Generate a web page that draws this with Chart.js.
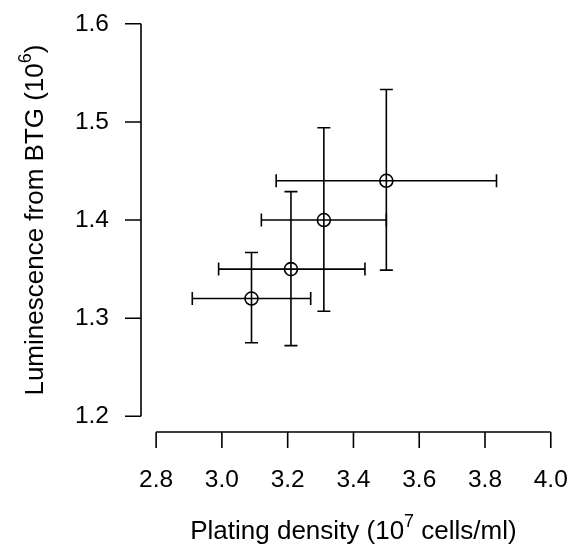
<!DOCTYPE html>
<html>
<head>
<meta charset="utf-8">
<script src="https://cdn.jsdelivr.net/npm/chart.js@4"></script>
<style>
  html, body { margin: 0; padding: 0; background: #fff; }
  #box { width: 574px; height: 552px; }
</style>
</head>
<body>
<div id="box"><canvas id="myChart" width="574" height="552"></canvas></div>
<script>
// dati
var density = [3.09, 3.21, 3.31, 3.50];
var lumin = [1.32, 1.35, 1.40, 1.44];
var densityLow = [2.91, 2.99, 3.12, 3.165];
var densityHigh = [3.27, 3.435, 3.50, 3.835];
var luminLow = [1.275, 1.272, 1.307, 1.349];
var luminHigh = [1.367, 1.429, 1.494, 1.533];

var xTicks = [2.8, 3.0, 3.2, 3.4, 3.6, 3.8, 4.0];
var xTickLabels = ['2.8', '3.0', '3.2', '3.4', '3.6', '3.8', '4.0'];
var yTicks = [1.2, 1.3, 1.4, 1.5, 1.6];
var yTickLabels = ['1.2', '1.3', '1.4', '1.5', '1.6'];

var FONT = '"Liberation Sans", Arial, sans-serif';
var SIZE = 24.5;
var TITLE_SIZE = 26;

var points = [];
for (var i = 0; i < density.length; i++) {
  points.push({x: density[i], y: lumin[i]});
}

// testo con esponente, es. "(10" + "7" + " cells/ml)"
function drawSupText(ctx, parts, size) {
  var total = 0;
  parts.forEach(function(p) {
    ctx.font = (p.sup ? Math.round(size * 0.7) : size) + 'px ' + FONT;
    p.w = ctx.measureText(p.t).width;
    total += p.w;
  });
  var x = -total / 2;
  parts.forEach(function(p) {
    ctx.font = (p.sup ? Math.round(size * 0.7) : size) + 'px ' + FONT;
    ctx.fillText(p.t, x, p.sup ? -size * 0.45 : 0);
    x += p.w;
  });
}

var rAxes = {
  id: 'rAxes',
  beforeDatasetsDraw: function(chart) {
    var ctx = chart.ctx;
    var xs = chart.scales.x, ys = chart.scales.y;
    var area = chart.chartArea;
    ctx.save();
    ctx.strokeStyle = '#000';
    ctx.fillStyle = '#000';
    ctx.lineWidth = 1.6;

    // barre di errore
    for (var i = 0; i < density.length; i++) {
      var px = xs.getPixelForValue(density[i]);
      var py = ys.getPixelForValue(lumin[i]);
      var yt = ys.getPixelForValue(luminHigh[i]);
      var yb = ys.getPixelForValue(luminLow[i]);
      var xl = xs.getPixelForValue(densityLow[i]);
      var xr = xs.getPixelForValue(densityHigh[i]);
      var c = 6.5;
      ctx.beginPath();
      ctx.moveTo(px, yt); ctx.lineTo(px, yb);
      ctx.moveTo(px - c, yt); ctx.lineTo(px + c, yt);
      ctx.moveTo(px - c, yb); ctx.lineTo(px + c, yb);
      ctx.moveTo(xl, py); ctx.lineTo(xr, py);
      ctx.moveTo(xl, py - c); ctx.lineTo(xl, py + c);
      ctx.moveTo(xr, py - c); ctx.lineTo(xr, py + c);
      ctx.stroke();
    }

    var tick = 16;
    // asse x
    var bottom = area.bottom;
    ctx.beginPath();
    ctx.moveTo(xs.getPixelForValue(xTicks[0]), bottom);
    ctx.lineTo(xs.getPixelForValue(xTicks[xTicks.length - 1]), bottom);
    xTicks.forEach(function(v) {
      var p = xs.getPixelForValue(v);
      ctx.moveTo(p, bottom); ctx.lineTo(p, bottom + tick);
    });
    // asse y
    var left = area.left;
    ctx.moveTo(left, ys.getPixelForValue(yTicks[0]));
    ctx.lineTo(left, ys.getPixelForValue(yTicks[yTicks.length - 1]));
    yTicks.forEach(function(v) {
      var p = ys.getPixelForValue(v);
      ctx.moveTo(left, p); ctx.lineTo(left - tick, p);
    });
    ctx.stroke();

    ctx.font = SIZE + 'px ' + FONT;
    ctx.textBaseline = 'middle';
    ctx.textAlign = 'center';
    xTicks.forEach(function(v, k) {
      ctx.fillText(xTickLabels[k], xs.getPixelForValue(v), bottom + 48);
    });
    ctx.textAlign = 'right';
    yTicks.forEach(function(v, k) {
      ctx.fillText(yTickLabels[k], left - 32, ys.getPixelForValue(v));
    });

    // titoli
    ctx.textAlign = 'left';
    ctx.textBaseline = 'alphabetic';
    ctx.save();
    ctx.translate((area.left + area.right) / 2, bottom + 107);
    drawSupText(ctx, [{t: 'Plating density (10'}, {t: '7', sup: true}, {t: ' cells/ml)'}], TITLE_SIZE);
    ctx.restore();
    ctx.save();
    ctx.translate(43, (area.top + area.bottom) / 2);
    ctx.rotate(-Math.PI / 2);
    drawSupText(ctx, [{t: 'Luminescence from BTG (10'}, {t: '6', sup: true}, {t: ')'}], TITLE_SIZE);
    ctx.restore();

    ctx.restore();
  }
};

var ctx = document.getElementById('myChart').getContext('2d');
var myChart = new Chart(ctx, {
  type: 'scatter',
  data: {
    datasets: [{
      data: points,
      pointStyle: 'circle',
      pointRadius: 6.5,
      pointBorderWidth: 1.6,
      pointBorderColor: '#000',
      pointBackgroundColor: 'rgba(0,0,0,0)',
      showLine: false
    }]
  },
  options: {
    responsive: false,
    animation: false,
    devicePixelRatio: 1,
    layout: { padding: { left: 141, right: 4, top: 2, bottom: 120 } },
    plugins: { legend: { display: false }, tooltip: { enabled: false } },
    scales: {
      x: { type: 'linear', min: 2.754, max: 4.046, display: false },
      y: { type: 'linear', min: 1.184, max: 1.616, display: false }
    }
  },
  plugins: [rAxes]
});
</script>
</body>
</html>
